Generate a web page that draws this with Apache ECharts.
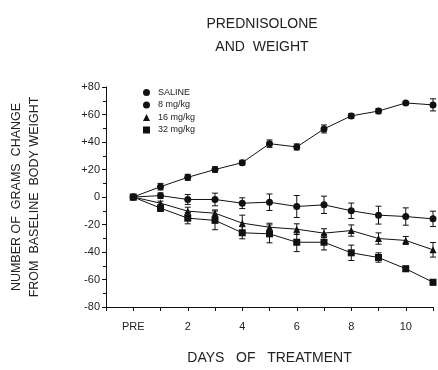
<!DOCTYPE html>
<html><head><meta charset="utf-8">
<script src="https://cdn.jsdelivr.net/npm/echarts@6/dist/echarts.min.js"></script>
<style>html,body{margin:0;padding:0;background:#fff}#c{width:438px;height:370px}</style>
</head><body><div id="c"></div>
<script>
var days = [0,1,2,3,4,5,6,7,8,9,10,11];
var seriesNames = ['SALINE','8 mg/kg','16 mg/kg','32 mg/kg'];
var saline = [0,7.5,14.3,20,25,38.8,36.4,49.5,59,62.5,68.4,67];
var salineErr = [0,2.4,2.2,2,1.7,2.7,2.2,2.9,1.7,1.9,1.2,4.4];
var mg8 = [0,1,-1.8,-1.8,-4.5,-3.8,-6.9,-5.7,-10,-13.2,-14.2,-15.9];
var mg8Err = [0,2,3.6,4.6,3.9,6,8,6.3,5.6,6.5,6.3,5.6];
var mg16 = [0,-4.5,-10.3,-11.8,-19,-22,-23.4,-26.3,-24.4,-30.2,-31.6,-38.4];
var mg16Err = [0,1.5,2.9,2.4,5.8,2.9,3.9,3.2,4.1,4.1,2.9,5.3];
var mg32 = [0,-8.1,-15.4,-17,-26,-26.8,-32.9,-32.9,-40.6,-44,-52.2,-62];
var mg32Err = [0,2.4,4.1,6.8,4.4,6.5,6.8,5.6,5.6,3.4,2,2];
var yTicks = {80:'+80',60:'+60',40:'+40',20:'+20',0:'0','-20':'-20','-40':'-40','-60':'-60','-80':'-80'};

var font = 'Liberation Sans';
var chart = echarts.init(document.getElementById('c'));
function pairs(v){ return days.map(function(d,i){ return [d, v[i]]; }); }
function errPairs(v,e){ return days.map(function(d,i){ return [d, v[i], e[i]]; }).filter(function(p){return p[2]>0;}); }
function errSeries(v,e){
  return {
    type:'custom', data: errPairs(v,e), z:1, silent:true,
    renderItem: function(params, api){
      var x = api.value(0), y = api.value(1), er = api.value(2);
      var top = api.coord([x, y+er]), bot = api.coord([x, y-er]);
      var st = {stroke:'#111', lineWidth:1};
      return {type:'group', children:[
        {type:'line', shape:{x1:top[0],y1:top[1],x2:bot[0],y2:bot[1]}, style:st},
        {type:'line', shape:{x1:top[0]-3,y1:top[1],x2:top[0]+3,y2:top[1]}, style:st},
        {type:'line', shape:{x1:bot[0]-3,y1:bot[1],x2:bot[0]+3,y2:bot[1]}, style:st}
      ]};
    }
  };
}
function lineSeries(name, v, sym, size){
  return {name:name, type:'line', data:pairs(v), symbol:sym, symbolSize:size, z:3,
    lineStyle:{color:'#111', width:1}, itemStyle:{color:'#111'}, showAllSymbol:true};
}
chart.setOption({
  animation:false,
  title:{text:'PREDNISOLONE\nAND  WEIGHT', left:257, top:8, textAlign:'center',
    textStyle:{fontFamily:font, fontWeight:'normal', fontSize:14, color:'#222', lineHeight:23}},
  legend:{orient:'vertical', left:143, top:88, padding:0, itemWidth:7, itemHeight:7, itemGap:3.5,
    textStyle:{fontFamily:font, fontSize:9, color:'#222', padding:[0,0,0,3]},
    data:[{name:'SALINE',icon:'circle'},{name:'8 mg/kg',icon:'circle'},{name:'16 mg/kg',icon:'triangle'},{name:'32 mg/kg',icon:'rect'}]},
  grid:{left:103, top:87, width:330, height:220},
  xAxis:{type:'value', min:-1, max:11, interval:1,
    name:'DAYS   OF   TREATMENT', nameLocation:'middle', nameGap:44,
    nameTextStyle:{fontFamily:font, fontSize:14, color:'#222'},
    axisLine:{onZero:false, lineStyle:{color:'#111'}}, axisTick:{lineStyle:{color:'#111'}, length:4},
    splitLine:{show:false},
    axisLabel:{fontFamily:font, fontSize:11, color:'#222', margin:14,
      formatter:function(v){ if(v===0) return 'PRE'; if(v>0 && v%2===0) return String(v); return ''; }}},
  yAxis:{type:'value', min:-80, max:80, interval:20,
    name:'NUMBER OF  GRAMS  CHANGE\nFROM  BASELINE  BODY WEIGHT', nameLocation:'middle', nameGap:62, nameRotate:90,
    nameTextStyle:{fontFamily:font, fontSize:12.5, color:'#222', lineHeight:18},
    axisLine:{show:true, onZero:false, lineStyle:{color:'#111'}}, axisTick:{show:true, length:4, lineStyle:{color:'#111'}},
    minorTick:{show:true, splitNumber:2, length:3, lineStyle:{color:'#111'}},
    splitLine:{show:false},
    axisLabel:{fontFamily:font, fontSize:11, color:'#222', margin:6,
      formatter:function(v){ return yTicks[v] !== undefined ? yTicks[v] : ''; }}},
  series:[
    errSeries(saline, salineErr), errSeries(mg8, mg8Err), errSeries(mg16, mg16Err), errSeries(mg32, mg32Err),
    lineSeries(seriesNames[0], saline, 'circle', 7),
    lineSeries(seriesNames[1], mg8, 'circle', 7),
    lineSeries(seriesNames[2], mg16, 'triangle', 7),
    lineSeries(seriesNames[3], mg32, 'rect', 7)
  ]
});
</script></body></html>
